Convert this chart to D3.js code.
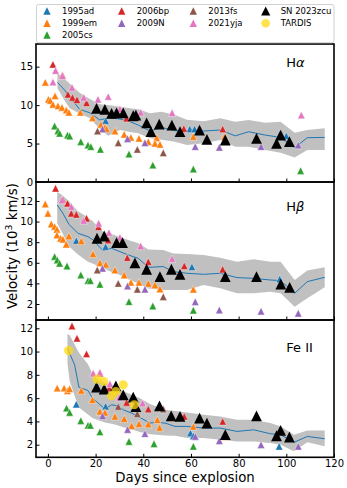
<!DOCTYPE html>
<html><head><meta charset="utf-8">
<script src="https://cdn.jsdelivr.net/npm/d3@7"></script>
<style>body{margin:0;background:#fff}svg{display:block}text{font-family:"DejaVu Sans",sans-serif;fill:#000}</style>
</head><body><div id="chart"></div>
<script>
// ---------- DATA ----------
const seriesNames = ["1995ad","1999em","2005cs","2006bp","2009N","2013fs","2021yja","SN 2023zcu"];
const seriesColors = ["#1f77b4","#ff7f0e","#2ca02c","#d62728","#9467bd","#8c564b","#e377c2","#000000"];
const tardisColor = "#ffd90f";
const xTicks = [0,20,40,60,80,100,120];
const panelLabels = ["α","β","Fe II"];

// H-alpha  [day, velocity 10^3 km/s]
const ha_1995ad = [[24.2,7.97],[59.5,6.9],[61.5,6.9],[97.3,6.2],[100,6.0]];
const ha_1999em = [[-1.1,12.96],[0.2,10.75],[1.0,10.6],[3.0,11.2],[2.1,10.1],[4.2,9.9],[5.9,9.7],[7.7,9.36],[8.8,9.06],[13.6,9.06],[18.7,8.36],[22.2,7.5],[23.9,7.1],[24.6,6.9],[28.1,6.63],[32,6.2],[34.8,5.8],[38.2,5.68],[42.1,5.24],[45.6,5.76],[44.9,5.03],[47,4.9],[61,5.9],[74.1,5.9]];
const ha_2005cs = [[2.8,7.28],[4.2,6.67],[4.9,6.33],[8.2,6.1],[9.1,5.98],[13.8,5.24],[16.8,4.8],[18,4.6],[22,4.25],[34,3.64],[44,2.2],[61,1.69],[106,1.47]];
const ha_2006bp = [[2.1,15.3],[6.1,13.9],[8.4,11.4],[10.3,11.0],[12.2,10.7],[16.2,10.3],[33,8.3],[57,6.95],[73.3,6.9]];
const ha_2009N = [[22.9,6.9],[33.4,5.63],[40.7,5.1],[61.8,4.6],[71.9,4.5],[89.4,4.6],[105,4.8]];
const ha_2013fs = [[20.8,6.63],[29.5,5.1],[37.5,4.25],[48.4,3.8]];
const ha_2021yja = [[2.1,13.0],[3.2,14.5],[6.1,13.8],[10.1,12.3],[15,11.0],[21,10.75],[25.3,11.1],[30.2,9.5],[38.9,9.06],[52.1,9.0],[106.3,8.7]];
const ha_2023zcu = [[20.4,9.58],[23.9,9.45],[26.7,8.93],[28.8,9.0],[31.6,9.0],[35.8,8.62],[36.9,8.7],[41.4,7.7],[43.2,6.54],[46.7,7.54],[52,7.41],[55.4,6.54],[63.6,6.76],[66.7,5.55],[74.4,5.46],[87.5,5.68],[95.9,5.03],[97.6,6.1],[101.3,5.24]];
const ha_bandDays = [4,7,9.1,13.3,17.6,21.8,25.3,30.2,34.4,37.9,42.8,47.7,53.3,58.3,65.3,72.3,78.6,84.2,91.2,97.6,103.5,108.8,116.1];
const ha_mean = [12.96,11.96,11.1,9.45,9.0,8.06,8.36,8.2,7.85,7.41,6.63,7.1,6.67,6.63,6.63,6.76,6.0,6.54,6.1,5.8,4.46,5.76,5.8];
const ha_high = [14.2,13.4,12.8,11.6,10.8,10.1,10.0,9.8,9.6,9.45,8.95,9.14,8.7,8.1,7.9,8.28,7.84,8.06,7.71,7.84,6.41,6.76,6.98];
const ha_low = [12.2,10.6,9.6,8.9,8.3,6.9,6.0,6.76,6.5,6.33,5.7,5.5,5.24,4.81,5.03,5.46,4.6,4.6,4.16,3.81,3.2,4.16,4.16];
const ha_ticks = [0,5,10,15];

// H-beta
const hb_1995ad = [[11.9,8.15],[24.2,7.57],[60.4,5.6],[97.2,4.43]];
const hb_1999em = [[-1.1,11.71],[0,10.8],[1.4,9.77],[2.8,9.51],[3.8,9.25],[3.8,8.7],[5.3,8.38],[6.3,8.28],[7.7,7.8],[8.8,8.6],[14,8.12],[18.9,6.86],[21.8,6.0],[24.3,5.85],[28.1,5.3],[32,4.82],[34.8,4.1],[38.2,4.1],[42.1,4.0],[44.9,3.85],[47,3.46],[61,3.43]];
const hb_2005cs = [[2.8,6.6],[3.9,6.27],[4.9,5.95],[8,5.69],[13.8,4.82],[16.8,4.27],[17.8,4.27],[21.8,3.91],[34,2.23],[44,1.81],[61,1.4]];
const hb_2006bp = [[3.2,13.23],[6.3,12.1],[8.2,11.77],[9.8,10.8],[11.9,10.7],[16.2,10.32],[21.2,9.5],[25.3,8.2],[33.3,6.5],[42.1,6.1],[57.2,5.7],[73.3,5.37]];
const hb_2009N = [[22.9,5.46],[33.4,3.75],[40.7,3.43],[61.8,2.22],[71.9,1.42],[89.4,1.3],[105,1.1]];
const hb_2013fs = [[20.7,5.3],[29.5,4.0],[37.5,3.43],[48.4,2.71]];
const hb_2021yja = [[5.9,12.1],[9.8,11.45],[15,10.1],[21.3,9.83],[25.6,8.93],[30.2,8.47],[38.9,7.63],[52.1,6.4]];
const hb_2023zcu = [[20.6,8.38],[23.6,8.6],[28.8,7.96],[31.3,7.96],[36.5,6.0],[41.4,5.37],[47,4.66],[51.8,5.37],[55.4,4.88],[74.4,4.65],[87.5,4.65],[97.7,3.94],[101.4,3.62]];
const hb_bandDays = [3.9,6.3,8.8,12.6,16.8,18.9,23.1,26.7,30.2,33.7,37.9,42.1,48.4,52.6,58.3,65.3,72.3,79.3,86.3,93.3,97.6,103.5,108.8,116.1];
const hb_mean = [11.61,10.8,9.74,8.86,8.54,8.22,7.18,7.4,7.08,6.76,6.43,5.56,5.63,5.14,4.98,4.88,4.98,4.56,4.49,4.33,4.27,3.04,4.17,4.59];
const hb_high = [12.9,12.5,12.0,11.0,10.4,10.0,9.0,8.8,8.5,8.2,7.9,7.3,7.24,6.9,6.86,6.76,6.5,6.11,6.34,6.11,6.11,4.33,5.24,5.56];
const hb_low = [9.83,8.8,7.6,6.8,6.1,5.9,5.46,5.1,4.82,4.4,4.0,3.5,3.36,3.36,3.36,3.85,3.52,3.04,3.04,3.2,3.04,1.74,2.55,3.62];
const hb_ticks = [2,4,6,8,10,12];

// Fe II
const fe_1995ad = [[11.9,5.48],[24.2,5.3],[59.8,3.0],[61,2.75],[97,1.86]];
const fe_1999em = [[3.9,6.86],[6.8,6.86],[8.2,6.63],[9.1,6.8],[14,6.66],[18.7,5.86],[21.8,4.86],[23.9,4.77],[28.1,4.43],[32,4.23],[35.1,3.63],[38.2,3.8],[42.1,3.77],[45.9,4.14],[46.8,3.48],[61,3.57],[74.1,2.7]];
const fe_2005cs = [[7.8,5.14],[9.1,4.77],[13.8,4.06],[16.8,3.66],[17.8,3.66],[21.8,3.1],[34,2.28],[44.5,2.08],[61,1.86]];
const fe_2006bp = [[10.1,12.2],[12.2,11.14],[16.2,9.8],[21.8,8.14],[25.7,6.86],[33,5.63],[42.1,5.06],[57.2,4.43],[73.3,4.0]];
const fe_2009N = [[22.9,4.48],[33.4,3.3],[40.7,2.95],[61.8,2.71],[71.9,2.34],[89.4,2.0],[105,1.86]];
const fe_2013fs = [[29.5,5.28],[37.5,4.66],[48.4,5.06]];
const fe_2021yja = [[19,8.14],[21.8,8.2],[26,7.23],[29.9,6.08],[36.5,5.63],[39.7,5.57]];
const fe_2023zcu = [[20.4,6.94],[23.6,6.77],[28.5,7.06],[31.6,6.28],[35.8,6.08],[36.9,5.28],[46.8,5.34],[51.7,4.48],[55.4,4.43],[63.6,4.28],[66.7,3.86],[74.4,2.86],[87.5,4.48],[95.9,2.77],[97.6,3.23],[101.3,2.66]];
const fe_tardis = [[8.7,10.08],[20.6,7.63],[23.4,7.43],[26.7,6.2],[28.5,6.57],[31.6,7.14],[36.2,5.43]];
const fe_bandDays = [8.2,9.1,11.2,13,16.8,18.7,21.1,23.9,26.7,28.8,31.6,35.1,38.6,42.8,45.6,49.1,53.3,58.3,65.3,72.3,79.3,86.3,93.3,97.6,103.2,108.8,116.1];
const fe_mean = [10.28,9.86,8.86,6.94,6.66,6.0,5.57,5.06,5.43,5.34,5.0,4.71,4.34,3.86,3.91,3.86,3.57,3.57,3.43,3.43,3.14,3.28,2.94,2.86,2.2,2.71,2.51];
const fe_high = [11.5,11.4,10.6,9.9,8.9,8.1,7.6,7.3,7.14,6.9,6.6,6.3,6.0,5.5,5.28,5.0,4.9,4.77,4.57,4.43,4.14,4.14,3.86,3.57,2.86,3.23,3.23];
const fe_low = [9.0,7.5,6.2,5.2,4.6,4.3,4.1,3.9,3.8,3.7,3.5,3.3,3.1,2.9,2.86,2.8,2.77,2.57,2.57,2.43,2.28,2.28,2.14,2.0,1.43,2.2,1.86];
const fe_ticks = [2,4,6,8,10,12];

// ---------- LAYOUT ----------
const W = 347, H = 488;
const L = 36, R = 334;
const panels = [
  {top:44, bottom:182, domain:[0,17.95], ticks:ha_ticks, series:[ha_1995ad,ha_1999em,ha_2005cs,ha_2006bp,ha_2009N,ha_2013fs,ha_2021yja,ha_2023zcu], tardis:[], band:[ha_bandDays,ha_mean,ha_low,ha_high], label:"H", greek:panelLabels[0], labelAt:[100,15]},
  {top:182, bottom:320, domain:[0.447,13.84], ticks:hb_ticks, series:[hb_1995ad,hb_1999em,hb_2005cs,hb_2006bp,hb_2009N,hb_2013fs,hb_2021yja,hb_2023zcu], tardis:[], band:[hb_bandDays,hb_mean,hb_low,hb_high], label:"H", greek:panelLabels[1], labelAt:[100,11]},
  {top:320, bottom:457.3, domain:[0.918,12.71], ticks:fe_ticks, series:[fe_1995ad,fe_1999em,fe_2005cs,fe_2006bp,fe_2009N,fe_2013fs,fe_2021yja,fe_2023zcu], tardis:fe_tardis, band:[fe_bandDays,fe_mean,fe_low,fe_high], label:panelLabels[2], greek:null, labelAt:[100,10]}
];

const svg = d3.select("#chart").append("svg").attr("width",W).attr("height",H);
const x = d3.scaleLinear().domain([-5,120]).range([L,R]);
const tri = a => `M0,${-a}L${-a},${a}L${a},${a}Z`;

panels.forEach((p,pi) => {
  const y = d3.scaleLinear().domain(p.domain).range([p.bottom,p.top]);
  const g = svg.append("g");
  const clipId = "clip"+pi;
  svg.append("clipPath").attr("id",clipId).append("rect").attr("x",L).attr("y",p.top).attr("width",R-L).attr("height",p.bottom-p.top);
  const pg = g.append("g").attr("clip-path",`url(#${clipId})`);
  const [bd,bm,bl,bh] = p.band;
  const bandData = bd.map((d,i)=>({d, m:bm[i], l:bl[i], h:bh[i]}));
  pg.append("path").datum(bandData)
    .attr("d", d3.area().x(d=>x(d.d)).y0(d=>y(d.l)).y1(d=>y(d.h)))
    .attr("fill","#c0c0c0");
  pg.append("path").datum(bandData)
    .attr("d", d3.line().x(d=>x(d.d)).y(d=>y(d.m)))
    .attr("fill","none").attr("stroke","#1f77b4").attr("stroke-width",1);
  p.series.forEach((pts,si) => {
    const big = si === 7;
    pg.selectAll(null).data(pts).join("path")
      .attr("transform", d=>`translate(${x(d[0])},${y(d[1])})`)
      .attr("d", tri(big?5.4:3.7))
      .attr("fill", seriesColors[si])
      .attr("stroke", big?"none":"#fff").attr("stroke-width",0.4);
  });
  pg.selectAll(null).data(p.tardis).join("circle")
    .attr("cx",d=>x(d[0])).attr("cy",d=>y(d[1])).attr("r",4.6)
    .attr("fill",tardisColor).attr("fill-opacity",0.75);

  // ticks
  const xa = g.append("g").attr("transform",`translate(0,${p.bottom})`)
    .call(d3.axisBottom(x).tickValues(xTicks).tickSizeInner(-3.5).tickSizeOuter(0).tickFormat(pi===2?d3.format("d"):""));
  xa.select(".domain").remove();
  xa.selectAll("line").attr("stroke","#000").attr("stroke-width",1);
  xa.selectAll("text").attr("dy",null).attr("y",10).attr("font-size",10).attr("font-family","DejaVu Sans");
  const ya = g.append("g").attr("transform",`translate(${L},0)`)
    .call(d3.axisLeft(y).tickValues(p.ticks).tickSizeInner(-3.5).tickSizeOuter(0).tickFormat(d3.format("d")));
  ya.select(".domain").remove();
  ya.selectAll("line").attr("stroke","#000").attr("stroke-width",1);
  ya.selectAll("text").attr("x",-3).attr("font-size",10).attr("font-family","DejaVu Sans");

  g.append("rect").attr("x",L).attr("y",p.top).attr("width",R-L).attr("height",p.bottom-p.top)
    .attr("fill","none").attr("stroke","#000").attr("stroke-width",1.6);

  const t = g.append("text").attr("x",x(p.labelAt[0])).attr("y",y(p.labelAt[1])).attr("font-size",13);
  t.append("tspan").text(p.label);
  if (p.greek) t.append("tspan").attr("font-style","italic").text(p.greek);
});

// axis labels
svg.append("text").attr("x",(L+R)/2).attr("y",482).attr("text-anchor","middle").attr("font-size",13.3).text("Days since explosion");
const yl = svg.append("text").attr("transform","translate(16.5,246) rotate(-90)").attr("text-anchor","middle").attr("font-size",13.3);
yl.append("tspan").text("Velocity (10");
yl.append("tspan").attr("font-size",9.3).attr("dy",-5).text("3");
yl.append("tspan").attr("dy",5).text(" km/s)");

// legend
const lg = svg.append("g");
lg.append("rect").attr("x",36.5).attr("y",4.5).attr("width",297.5).attr("height",38.2).attr("rx",2)
  .attr("fill","#fff").attr("stroke","#d0d0d0").attr("stroke-width",1);
const colMarkX = [47,121.7,193.3,265.7];
const rowY = [11,23.3,35];
const legendItems = seriesNames.map((n,i)=>({name:n,color:seriesColors[i],type:"tri"})).concat([{name:"TARDIS",color:tardisColor,type:"circ"}]);
const colsOf = [[0,1,2],[3,4],[5,6],[7,8]];
colsOf.forEach((col,ci)=>col.forEach((idx,ri)=>{
  const it = legendItems[idx];
  const cx = colMarkX[ci], cy = rowY[ri];
  if (it.type==="tri") lg.append("path").attr("transform",`translate(${cx},${cy})`).attr("d",tri(idx===7?4.6:3.7)).attr("fill",it.color);
  else lg.append("circle").attr("cx",cx).attr("cy",cy).attr("r",4.3).attr("fill",it.color).attr("fill-opacity",0.75);
  lg.append("text").attr("x",cx+15).attr("y",cy+3).attr("font-size",8.5).text(it.name);
}));
</script>
</body></html>
